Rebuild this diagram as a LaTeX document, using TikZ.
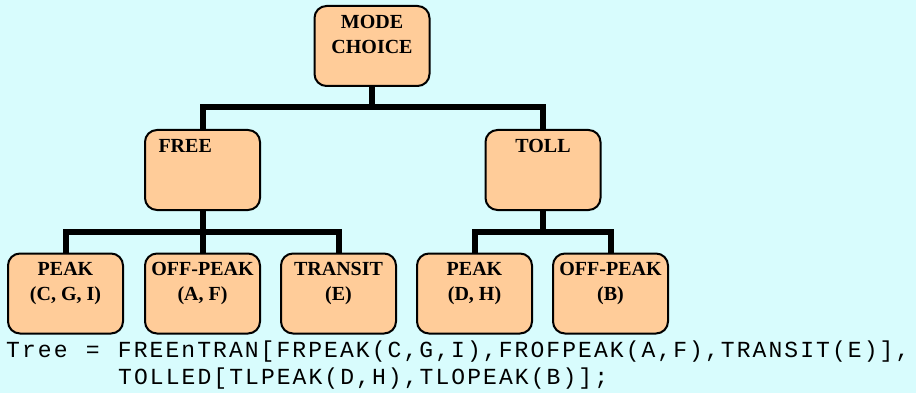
\documentclass[tikz,border=0pt]{standalone}
\usepackage{fontspec}
\setmainfont{Liberation Serif}
\newfontfamily\codefont[LetterSpace=9.0,WordSpace=1.15]{Liberation Mono}

\definecolor{bgcyan}{RGB}{216,252,253}
\definecolor{boxpeach}{RGB}{255,204,153}

% text block sitting at the top of a box
\newcommand{\toptext}[1]{\parbox[c][62pt][t]{104pt}{\centering #1}}

\tikzset{
    choicebox/.style={draw=black, line width=2pt, fill=boxpeach, rounded corners=12pt,
        minimum width=115pt, minimum height=80pt, inner sep=0pt,
        font=\fontsize{20}{25}\selectfont\bfseries},
    branch/.style={line width=6pt},
    codeline/.style={anchor=base west, inner sep=0pt, font=\codefont\fontsize{23}{27}\selectfont},
}

\begin{document}
\begin{tikzpicture}[x=1pt, y=-1pt]
    % Background
    \fill[bgcyan] (0,0) rectangle (916,393);
    \useasboundingbox (0,0) rectangle (916,393);

    % Top level
    \node[choicebox] (mode) at (372,46) {\toptext{MODE\\CHOICE}};

    % Second level
    \node[choicebox] (free) at (202.5,170) {\toptext{\raggedright\hspace*{8pt}FREE}};
    \node[choicebox] (toll) at (543,170) {\toptext{TOLL}};

    % Third level: free road, then tolled road
    \node[choicebox] (frpeak) at (65.5,293.5) {\toptext{PEAK\\(C, G, I)}};
    \node[choicebox] (frofpeak) at (202.5,293.5) {\toptext{OFF-PEAK\\(A, F)}};
    \node[choicebox] (transit) at (338.5,293.5) {\toptext{TRANSIT\\(E)}};
    \node[choicebox] (tlpeak) at (474.5,293.5) {\toptext{PEAK\\(D, H)}};
    \node[choicebox] (tlopeak) at (610.5,293.5) {\toptext{OFF-PEAK\\(B)}};

    % Branches
    \draw[branch] (mode.south) -- ++(0,20.5) coordinate (modebar);
    \draw[branch] (free.north) |- (modebar) -| (toll.north);

    \draw[branch] (free.south) -- ++(0,20.5) coordinate (freebar);
    \draw[branch] (frpeak.north) |- (freebar) -| (transit.north);
    \draw[branch] (frofpeak.north) -- (freebar);

    \draw[branch] (toll.south) -- ++(0,20.5) coordinate (tollbar);
    \draw[branch] (tlpeak.north) |- (tollbar) -| (tlopeak.north);

    % Tree definition
    \node[codeline] (treeline) at (6,357) {Tree = FREEnTRAN[FRPEAK(C,G,I),FROFPEAK(A,F),TRANSIT(E)],};
    \node[codeline] (tolledline) at (118,384) {TOLLED[TLPEAK(D,H),TLOPEAK(B)];};
\end{tikzpicture}
\end{document}
